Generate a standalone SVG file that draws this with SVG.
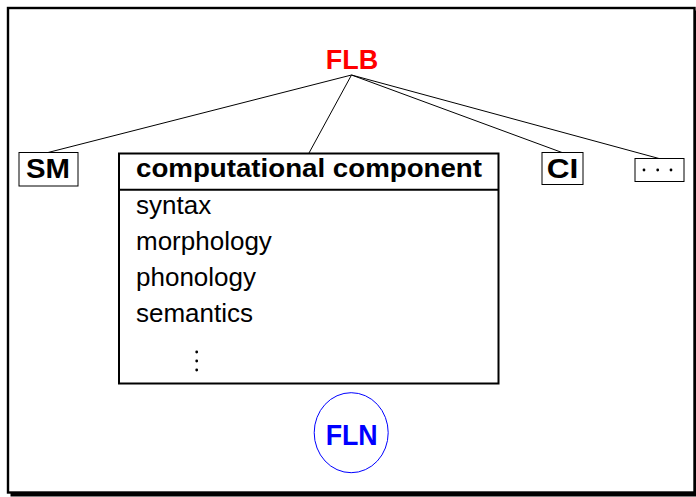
<svg xmlns="http://www.w3.org/2000/svg" width="696" height="497" viewBox="0 0 696 497">
<style>
.t{font-family:"Liberation Sans",Arial,sans-serif;}
.b{font-weight:bold;}
.thin{fill:#fff;stroke:#000;stroke-width:1;}
.item{font-size:26px;fill:#000;}
.conn line{stroke:#000;stroke-width:1;}
</style>
<g id="frame">
<rect x="10.5" y="10.5" width="690" height="486" fill="#000"/>
<rect x="8" y="8" width="686.5" height="484.5" fill="#fff" stroke="#000" stroke-width="2.4"/>
</g>
<g id="connectors" class="conn">
<line x1="351.5" y1="75" x2="48" y2="152.5"/>
<line x1="351.5" y1="75" x2="309" y2="153"/>
<line x1="351.5" y1="75" x2="562" y2="152.5"/>
<line x1="351.5" y1="75" x2="659" y2="158.5"/>
</g>
<g id="FLB">
<text class="t b" x="352" y="69.3" font-size="27" fill="#FF0000" text-anchor="middle">FLB</text>
</g>
<g id="SM">
<rect class="thin" x="19" y="152.5" width="59" height="33.5"/>
<text class="t b" x="26" y="178.3" font-size="28" textLength="44" lengthAdjust="spacingAndGlyphs">SM</text>
</g>
<g id="CI">
<rect class="thin" x="542" y="152.5" width="41" height="32"/>
<text class="t b" x="546.7" y="178.3" font-size="28" textLength="31.6" lengthAdjust="spacingAndGlyphs">CI</text>
</g>
<g id="more">
<rect class="thin" x="635" y="158.5" width="49" height="23"/>
<circle cx="644" cy="170" r="1.4"/>
<circle cx="657.7" cy="170" r="1.4"/>
<circle cx="671" cy="170" r="1.4"/>
</g>
<g id="computational">
<rect x="119" y="153.5" width="379.5" height="230" fill="#fff" stroke="#000" stroke-width="2"/>
<line x1="119" y1="189.8" x2="498.5" y2="189.8" stroke="#000" stroke-width="2"/>
<text class="t b" x="136" y="177.3" font-size="26.5" textLength="346" lengthAdjust="spacingAndGlyphs">computational component</text>
<text class="t item" x="136" y="214">syntax</text>
<text class="t item" x="136" y="250">morphology</text>
<text class="t item" x="136" y="286">phonology</text>
<text class="t item" x="136" y="321.5">semantics</text>
<circle cx="196.7" cy="352" r="1.4"/>
<circle cx="196.7" cy="361" r="1.4"/>
<circle cx="196.7" cy="370" r="1.4"/>
</g>
<g id="FLN">
<ellipse cx="351.2" cy="432.7" rx="37" ry="40" fill="none" stroke="#0000FF" stroke-width="1"/>
<text class="t b" x="325.7" y="445" font-size="29" fill="#0000FF" textLength="52" lengthAdjust="spacingAndGlyphs">FLN</text>
</g>
</svg>
